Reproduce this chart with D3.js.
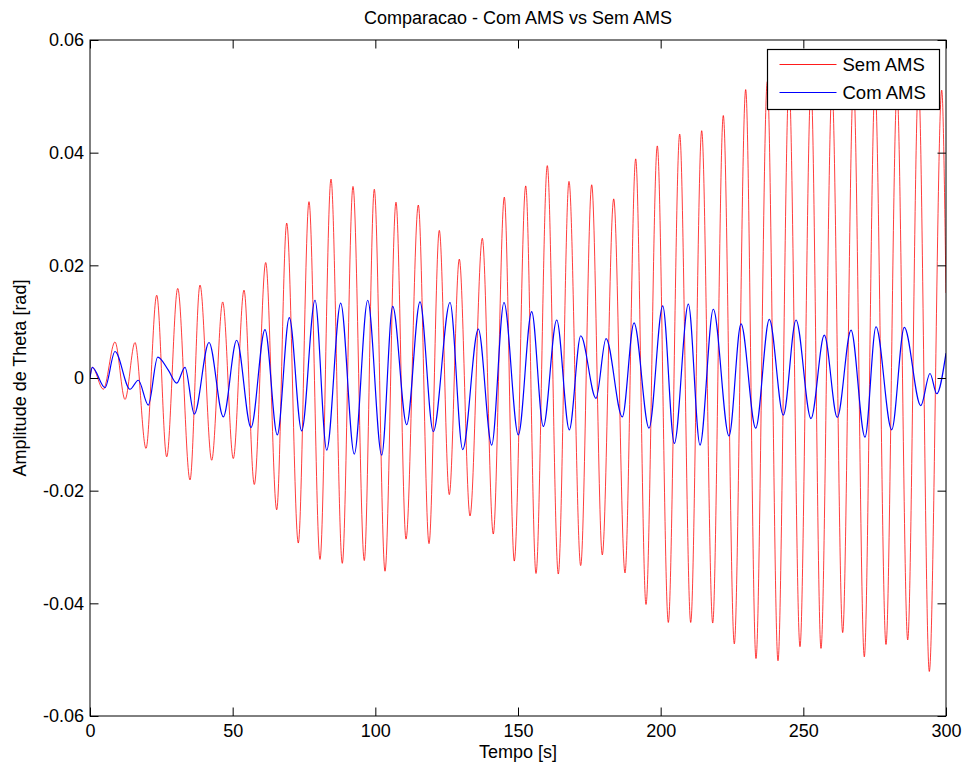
<!DOCTYPE html>
<html>
<head>
<meta charset="utf-8">
<script src="https://cdn.jsdelivr.net/npm/d3@7"></script>
<style>
  body { margin: 0; background: #fff; }
  svg { display: block; }
  text { font-family: "Liberation Sans", Arial, sans-serif; fill: #000; }
</style>
</head>
<body>
<svg id="chart" width="963" height="769"></svg>
<script>
// Sem AMS: turning points of the roll response (time in s, theta in rad)
const semTime = [0, 0.8, 4.66, 8.76, 12.27, 15.77, 19.63, 23.38, 26.88, 30.74, 35.05, 38.55, 42.65, 46.51,
  50.22, 53.97, 57.58, 61.58, 65.43, 68.94, 73.0, 76.75, 80.61, 84.46, 88.42, 92.17, 96.13, 99.64,
  103.39, 107.24, 110.75, 115.06, 118.81, 122.42, 125.92, 129.43, 133.18, 137.49, 141.34, 145.2,
  148.7, 152.7, 156.31, 160.27, 164.12, 167.87, 171.97, 175.83, 179.54, 183.54, 187.5, 191.25,
  194.86, 198.82, 202.68, 206.67, 210.53, 214.38, 218.24, 221.95, 225.81, 229.8, 233.41, 237.37,
  241.12, 244.98, 248.83, 252.69, 256.19, 260.05, 263.79, 267.58, 271.37, 275.12, 278.97, 282.83,
  286.58, 290.36, 294.15, 298.5, 300];
const semTheta = [0, 0.0019, -0.0020, 0.0064, -0.0038, 0.0063, -0.0125, 0.0147, -0.0140, 0.0159, -0.0181,
  0.0165, -0.0146, 0.0135, -0.0143, 0.0156, -0.0189, 0.0205, -0.0234, 0.0275, -0.0293, 0.0313,
  -0.0322, 0.0353, -0.0329, 0.0340, -0.0324, 0.0335, -0.0343, 0.0312, -0.0286, 0.0307, -0.0294,
  0.0262, -0.0207, 0.0211, -0.0245, 0.0248, -0.0277, 0.0321, -0.0325, 0.0341, -0.0347, 0.0377,
  -0.0348, 0.0349, -0.0333, 0.0343, -0.0314, 0.0318, -0.0346, 0.0389, -0.0402, 0.0412, -0.0434,
  0.0433, -0.0434, 0.0439, -0.0435, 0.0466, -0.0472, 0.0512, -0.0498, 0.0526, -0.0502, 0.0525,
  -0.0477, 0.0520, -0.0480, 0.0515, -0.0452, 0.0525, -0.0495, 0.0520, -0.0473, 0.0510, -0.0465,
  0.0525, -0.0521, 0.0511, 0.0151];

// Com AMS: turning points of the damped response
const comTime = [0, 0.8, 5.26, 8.76, 14.02, 16.93, 20.43, 23.73, 27.44, 30.39, 33.29, 36.55, 41.71, 46.72,
  51.41, 56.43, 61.33, 65.64, 69.85, 74.19, 78.86, 82.96, 87.86, 92.63, 97.33, 102.23, 106.09,
  110.99, 115.65, 120.31, 126.17, 130.62, 136.09, 140.78, 145.09, 150.11, 154.8, 158.87, 163.57,
  167.98, 171.98, 177.34, 180.85, 186.56, 190.66, 195.92, 200.72, 204.79, 209.7, 213.79, 218.45,
  223.95, 228.16, 233.31, 238.08, 242.99, 247.43, 252.69, 257.35, 261.9, 266.71, 271.61, 275.47,
  280.97, 285.39, 291.14, 294.4, 296.75, 300];
const comTheta = [0, 0.0019, -0.0017, 0.0047, -0.0020, -0.0004, -0.0048, 0.0037, 0.0014, -0.0009, 0.0019,
  -0.0064, 0.0063, -0.0069, 0.0067, -0.0088, 0.0086, -0.0101, 0.0107, -0.0094, 0.0138, -0.0128,
  0.0133, -0.0135, 0.0138, -0.0137, 0.0127, -0.0083, 0.0135, -0.0095, 0.0134, -0.0127, 0.0087,
  -0.0119, 0.0134, -0.0101, 0.0118, -0.0086, 0.0103, -0.0092, 0.0075, -0.0036, 0.0070, -0.0069,
  0.0098, -0.0089, 0.0128, -0.0116, 0.0131, -0.0119, 0.0122, -0.0103, 0.0096, -0.0089, 0.0104,
  -0.0066, 0.0103, -0.0072, 0.0076, -0.0070, 0.0085, -0.0105, 0.0091, -0.0092, 0.0090, -0.0049,
  0.0008, -0.0028, 0.0044];

const xTicks = [0, 50, 100, 150, 200, 250, 300];
const yTicks = [-0.06, -0.04, -0.02, 0, 0.02, 0.04, 0.06];
const yTickLabels = ["-0.06", "-0.04", "-0.02", "0", "0.02", "0.04", "0.06"];
const seriesNames = ["Sem AMS", "Com AMS"];
const seriesColors = ["#ff0000", "#0000ff"];

const svg = d3.select("#chart");
const margin = { left: 90, right: 17, top: 40, bottom: 53 };
const W = 963, H = 769;
const plotW = W - margin.left - margin.right;
const plotH = H - margin.top - margin.bottom;

const x = d3.scaleLinear().domain([0, 300]).range([margin.left, margin.left + plotW]);
const y = d3.scaleLinear().domain([-0.06, 0.06]).range([margin.top + plotH, margin.top]);

svg.append("rect").attr("width", W).attr("height", H).attr("fill", "#fff");

svg.append("defs").append("clipPath").attr("id", "plotClip")
  .append("rect").attr("x", margin.left).attr("y", margin.top).attr("width", plotW).attr("height", plotH);

const line = d3.line().x(d => x(d[0])).y(d => y(d[1])).curve(d3.curveMonotoneX);
const semData = semTime.map((t, i) => [t, semTheta[i]]);
const comData = comTime.map((t, i) => [t, comTheta[i]]);

const lines = svg.append("g").attr("clip-path", "url(#plotClip)");
lines.append("path").datum(semData).attr("d", line)
  .attr("fill", "none").attr("stroke", seriesColors[0]).attr("stroke-width", 0.9).attr("stroke-opacity", 0.85);
lines.append("path").datum(comData).attr("d", line)
  .attr("fill", "none").attr("stroke", seriesColors[1]).attr("stroke-width", 1.2);

// Boxed axes with inward ticks on all four sides
const tk = 8.5;
const fmtY = d => yTickLabels[yTicks.indexOf(d)];
function styleAxis(g) {
  g.select(".domain").remove();
  g.selectAll(".tick line").attr("stroke", "#000").attr("stroke-width", 1);
  g.selectAll(".tick text").attr("font-size", 18).attr("font-family", "Liberation Sans, Arial, sans-serif").attr("fill", "#000");
  g.attr("font-family", null).attr("font-size", null);
}
svg.append("g").attr("transform", `translate(0,${margin.top + plotH})`)
  .call(d3.axisBottom(x).tickValues(xTicks).tickSize(-tk).tickPadding(8).tickFormat(d3.format("d")))
  .call(styleAxis);
svg.append("g").attr("transform", `translate(0,${margin.top})`)
  .call(d3.axisTop(x).tickValues(xTicks).tickSize(-tk).tickFormat(""))
  .call(styleAxis);
svg.append("g").attr("transform", `translate(${margin.left},0)`)
  .call(d3.axisLeft(y).tickValues(yTicks).tickSize(-tk).tickPadding(6).tickFormat(fmtY))
  .call(styleAxis);
svg.append("g").attr("transform", `translate(${margin.left + plotW},0)`)
  .call(d3.axisRight(y).tickValues(yTicks).tickSize(-tk).tickFormat(""))
  .call(styleAxis);

svg.append("rect").attr("x", margin.left).attr("y", margin.top)
  .attr("width", plotW).attr("height", plotH)
  .attr("fill", "none").attr("stroke", "#000").attr("stroke-width", 1);

// Title and axis labels
svg.append("text").attr("x", margin.left + plotW / 2).attr("y", 24)
  .attr("text-anchor", "middle").attr("font-size", 18)
  .text("Comparacao - Com AMS vs Sem AMS");
svg.append("text").attr("x", margin.left + plotW / 2).attr("y", 758)
  .attr("text-anchor", "middle").attr("font-size", 18)
  .text("Tempo [s]");
svg.append("text").attr("transform", `translate(26,${margin.top + plotH / 2}) rotate(-90)`)
  .attr("text-anchor", "middle").attr("font-size", 18)
  .text("Amplitude de Theta [rad]");

// Legend
const lg = svg.append("g").attr("transform", "translate(767.5,49.5)");
lg.append("rect").attr("width", 172).attr("height", 60)
  .attr("fill", "#fff").attr("stroke", "#000").attr("stroke-width", 1.2);
seriesNames.forEach((name, i) => {
  const cy = 15 + i * 28;
  lg.append("line").attr("x1", 12).attr("x2", 69).attr("y1", cy).attr("y2", cy)
    .attr("stroke", seriesColors[i]).attr("stroke-width", i === 0 ? 0.9 : 1.2);
  lg.append("text").attr("x", 75).attr("y", cy).attr("dy", "0.35em")
    .attr("font-size", 18.5).text(name);
});
</script>
</body>
</html>
